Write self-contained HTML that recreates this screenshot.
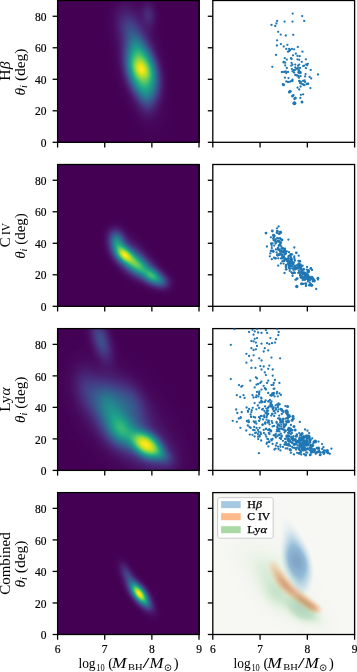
<!DOCTYPE html>
<html><head><meta charset="utf-8"><style>
html,body{margin:0;padding:0;background:#fff;overflow:hidden;width:357px;height:672px;}
#w{position:relative;width:357px;height:672px;overflow:hidden;background:#fff;}
canvas{position:absolute;}
svg{position:absolute;left:0;top:0;}
.t{font-family:"Liberation Serif", serif;font-size:11.5px;fill:#000;stroke:#000;stroke-width:0.2px;}
.xl{font-family:"Liberation Serif", serif;font-size:14.5px;fill:#000;}
.lg{font-family:"Liberation Serif", serif;font-size:10px;fill:#000;stroke:#000;stroke-width:0.25px;}
.yl{font-family:"Liberation Serif", serif;font-size:14.8px;fill:#000;}
</style></head><body><div id="w">
<svg width="357" height="672" style="position:absolute;left:0;top:0"><defs><filter id="fb" x="-50%" y="-50%" width="200%" height="200%"><feGaussianBlur stdDeviation="2.5"/></filter><filter id="fb2" x="-50%" y="-50%" width="200%" height="200%"><feGaussianBlur stdDeviation="3.5"/></filter></defs>
<rect x="57" y="0" width="143" height="143" fill="#440154"/>
<g clip-path="url(#fbc0)"><clipPath id="fbc0"><rect x="57" y="0" width="143" height="143"/></clipPath><g filter="url(#fb)">
<ellipse cx="142" cy="71" rx="18.69" ry="35.81" transform="rotate(-15 142 71)" fill="#414487"/>
<ellipse cx="141.5" cy="69.5" rx="9.82" ry="14.28" transform="rotate(-25 141.5 69.5)" fill="#414487"/>
<ellipse cx="139" cy="60" rx="14.98" ry="41.95" transform="rotate(-12 139 60)" fill="#414487"/>
<ellipse cx="146" cy="100" rx="6.64" ry="11.06" transform="rotate(-10 146 100)" fill="#414487"/>
<ellipse cx="136" cy="40" rx="6.49" ry="9.27" transform="rotate(-15 136 40)" fill="#414487"/>
<ellipse cx="128" cy="27" rx="7.74" ry="13.27" transform="rotate(-15 128 27)" fill="#414487"/>
<ellipse cx="148.5" cy="15" rx="4.98" ry="8.85" transform="rotate(-5 148.5 15)" fill="#414487"/>
<ellipse cx="142" cy="71" rx="15.35" ry="29.42" transform="rotate(-15 142 71)" fill="#2a788e"/>
<ellipse cx="141.5" cy="69.5" rx="5.47" ry="7.95" transform="rotate(-25 141.5 69.5)" fill="#2a788e"/>
<ellipse cx="139" cy="60" rx="2.18" ry="6.11" transform="rotate(-12 139 60)" fill="#2a788e"/>
<ellipse cx="142" cy="71" rx="12.93" ry="24.78" transform="rotate(-15 142 71)" fill="#22a884"/>
<ellipse cx="142" cy="71" rx="10.41" ry="19.94" transform="rotate(-15 142 71)" fill="#7ad151"/>
<ellipse cx="142" cy="71" rx="6.98" ry="13.37" transform="rotate(-15 142 71)" fill="#f1e51d"/>
</g></g>
<rect x="57" y="164" width="143" height="143" fill="#440154"/>
<g clip-path="url(#fbc1)"><clipPath id="fbc1"><rect x="57" y="164" width="143" height="143"/></clipPath><g filter="url(#fb)">
<ellipse cx="116.5" cy="240" rx="9.16" ry="11.91" transform="rotate(-12 116.5 240)" fill="#414487"/>
<ellipse cx="118.5" cy="249" rx="8.45" ry="10.14" transform="rotate(-20 118.5 249)" fill="#414487"/>
<ellipse cx="124.2" cy="254.7" rx="10.62" ry="12.74" transform="rotate(-45 124.2 254.7)" fill="#414487"/>
<ellipse cx="132" cy="261.5" rx="12.00" ry="14.00" transform="rotate(-52 132 261.5)" fill="#414487"/>
<ellipse cx="141" cy="268" rx="11.90" ry="13.88" transform="rotate(-55 141 268)" fill="#414487"/>
<ellipse cx="151.5" cy="275.5" rx="10.23" ry="12.27" transform="rotate(-60 151.5 275.5)" fill="#414487"/>
<ellipse cx="160" cy="281" rx="7.82" ry="10.42" transform="rotate(-65 160 281)" fill="#414487"/>
<ellipse cx="130" cy="252" rx="7.54" ry="12.92" transform="rotate(-45 130 252)" fill="#414487"/>
<ellipse cx="116.5" cy="240" rx="5.38" ry="7.00" transform="rotate(-12 116.5 240)" fill="#2a788e"/>
<ellipse cx="118.5" cy="249" rx="4.05" ry="4.86" transform="rotate(-20 118.5 249)" fill="#2a788e"/>
<ellipse cx="124.2" cy="254.7" rx="7.60" ry="9.12" transform="rotate(-45 124.2 254.7)" fill="#2a788e"/>
<ellipse cx="132" cy="261.5" rx="8.05" ry="9.39" transform="rotate(-52 132 261.5)" fill="#2a788e"/>
<ellipse cx="141" cy="268" rx="7.90" ry="9.22" transform="rotate(-55 141 268)" fill="#2a788e"/>
<ellipse cx="151.5" cy="275.5" rx="7.05" ry="8.45" transform="rotate(-60 151.5 275.5)" fill="#2a788e"/>
<ellipse cx="160" cy="281" rx="4.08" ry="5.44" transform="rotate(-65 160 281)" fill="#2a788e"/>
<ellipse cx="116.5" cy="240" rx="1.86" ry="2.41" transform="rotate(-12 116.5 240)" fill="#22a884"/>
<ellipse cx="124.2" cy="254.7" rx="5.68" ry="6.81" transform="rotate(-45 124.2 254.7)" fill="#22a884"/>
<ellipse cx="132" cy="261.5" rx="5.30" ry="6.18" transform="rotate(-52 132 261.5)" fill="#22a884"/>
<ellipse cx="141" cy="268" rx="5.07" ry="5.91" transform="rotate(-55 141 268)" fill="#22a884"/>
<ellipse cx="151.5" cy="275.5" rx="4.91" ry="5.89" transform="rotate(-60 151.5 275.5)" fill="#22a884"/>
<ellipse cx="124.2" cy="254.7" rx="3.92" ry="4.71" transform="rotate(-45 124.2 254.7)" fill="#7ad151"/>
<ellipse cx="132" cy="261.5" rx="1.95" ry="2.28" transform="rotate(-52 132 261.5)" fill="#7ad151"/>
<ellipse cx="141" cy="268" rx="1.21" ry="1.41" transform="rotate(-55 141 268)" fill="#7ad151"/>
<ellipse cx="151.5" cy="275.5" rx="2.70" ry="3.24" transform="rotate(-60 151.5 275.5)" fill="#7ad151"/>
<ellipse cx="124.2" cy="254.7" rx="1.99" ry="2.39" transform="rotate(-45 124.2 254.7)" fill="#f1e51d"/>
</g></g>
<rect x="57" y="328" width="143" height="143" fill="#440154"/>
<g clip-path="url(#fbc2)"><clipPath id="fbc2"><rect x="57" y="328" width="143" height="143"/></clipPath><g filter="url(#fb)">
<ellipse cx="146.6" cy="445" rx="14.87" ry="21.47" transform="rotate(-53 146.6 445)" fill="#414487"/>
<ellipse cx="146.6" cy="445" rx="7.33" ry="10.26" transform="rotate(-53 146.6 445)" fill="#414487"/>
<ellipse cx="146" cy="447" rx="16.83" ry="27.54" transform="rotate(-55 146 447)" fill="#414487"/>
<ellipse cx="121" cy="431" rx="17.96" ry="23.95" transform="rotate(-40 121 431)" fill="#414487"/>
<ellipse cx="109" cy="406" rx="21.36" ry="31.08" transform="rotate(-25 109 406)" fill="#414487"/>
<ellipse cx="132" cy="402" rx="11.14" ry="19.50" transform="rotate(-30 132 402)" fill="#414487"/>
<ellipse cx="132" cy="426" rx="7.87" ry="12.24" transform="rotate(-45 132 426)" fill="#414487"/>
<ellipse cx="101" cy="340" rx="9.24" ry="23.52" transform="rotate(-17 101 340)" fill="#414487"/>
<ellipse cx="86" cy="388" rx="8.50" ry="14.87" transform="rotate(-10 86 388)" fill="#414487"/>
<ellipse cx="125" cy="420" rx="17.48" ry="30.59" transform="rotate(-40 125 420)" fill="#414487"/>
<ellipse cx="162" cy="455" rx="7.65" ry="12.24" transform="rotate(-50 162 455)" fill="#414487"/>
<ellipse cx="146.6" cy="445" rx="11.90" ry="17.19" transform="rotate(-53 146.6 445)" fill="#2a788e"/>
<ellipse cx="146" cy="447" rx="4.17" ry="6.82" transform="rotate(-55 146 447)" fill="#2a788e"/>
<ellipse cx="121" cy="431" rx="12.03" ry="16.04" transform="rotate(-40 121 431)" fill="#2a788e"/>
<ellipse cx="109" cy="406" rx="13.80" ry="20.08" transform="rotate(-25 109 406)" fill="#2a788e"/>
<ellipse cx="101" cy="340" rx="4.35" ry="11.08" transform="rotate(-17 101 340)" fill="#2a788e"/>
<ellipse cx="162" cy="455" rx="1.90" ry="3.03" transform="rotate(-50 162 455)" fill="#2a788e"/>
<ellipse cx="146.6" cy="445" rx="9.79" ry="14.15" transform="rotate(-53 146.6 445)" fill="#22a884"/>
<ellipse cx="121" cy="431" rx="7.87" ry="10.49" transform="rotate(-40 121 431)" fill="#22a884"/>
<ellipse cx="109" cy="406" rx="8.18" ry="11.90" transform="rotate(-25 109 406)" fill="#22a884"/>
<ellipse cx="146.6" cy="445" rx="7.66" ry="11.06" transform="rotate(-53 146.6 445)" fill="#7ad151"/>
<ellipse cx="121" cy="431" rx="2.72" ry="3.62" transform="rotate(-40 121 431)" fill="#7ad151"/>
<ellipse cx="146.6" cy="445" rx="4.87" ry="7.03" transform="rotate(-53 146.6 445)" fill="#f1e51d"/>
</g></g>
<rect x="57" y="492" width="143" height="143" fill="#440154"/>
<g clip-path="url(#fbc3)"><clipPath id="fbc3"><rect x="57" y="492" width="143" height="143"/></clipPath><g filter="url(#fb)">
<ellipse cx="139.4" cy="593.7" rx="8.49" ry="16.98" transform="rotate(-38 139.4 593.7)" fill="#414487"/>
<ellipse cx="137" cy="591" rx="5.45" ry="18.66" transform="rotate(-33 137 591)" fill="#414487"/>
<ellipse cx="126.5" cy="573" rx="2.78" ry="6.07" transform="rotate(-25 126.5 573)" fill="#414487"/>
<ellipse cx="147" cy="604" rx="2.31" ry="4.62" transform="rotate(-45 147 604)" fill="#414487"/>
<ellipse cx="139.4" cy="593.7" rx="6.08" ry="12.16" transform="rotate(-38 139.4 593.7)" fill="#2a788e"/>
<ellipse cx="139.4" cy="593.7" rx="4.54" ry="9.08" transform="rotate(-38 139.4 593.7)" fill="#22a884"/>
<ellipse cx="139.4" cy="593.7" rx="3.14" ry="6.28" transform="rotate(-38 139.4 593.7)" fill="#7ad151"/>
<ellipse cx="139.4" cy="593.7" rx="1.59" ry="3.18" transform="rotate(-38 139.4 593.7)" fill="#f1e51d"/>
</g></g>
<rect x="213" y="492" width="143" height="143" fill="#f7f7f4"/>
<g filter="url(#fb2)">
<ellipse cx="285" cy="595" rx="34" ry="14" transform="rotate(40 285 595)" fill="#44a044" fill-opacity="0.15"/>
<ellipse cx="296" cy="588" rx="26" ry="5" transform="rotate(40 296 588)" fill="#e08040" fill-opacity="0.45"/>
<ellipse cx="297" cy="563" rx="10" ry="22" transform="rotate(-15 297 563)" fill="#4a8cc8" fill-opacity="0.6"/>
</g></svg>
<canvas id="k0" width="143" height="143" style="left:57px;top:0px"></canvas>
<canvas id="k1" width="143" height="143" style="left:57px;top:164px"></canvas>
<canvas id="k2" width="143" height="143" style="left:57px;top:328px"></canvas>
<canvas id="k3" width="143" height="143" style="left:57px;top:492px"></canvas>
<canvas id="kc" width="143" height="143" style="left:213px;top:492px"></canvas>
<svg width="357" height="672" viewBox="0 0 357 672">
<rect x="57.60" y="0.50" width="141.40" height="141.80" fill="none" stroke="#000" stroke-width="1.3"/>
<line x1="52.60" y1="142.30" x2="57.60" y2="142.30" stroke="#000" stroke-width="1.3"/>
<line x1="52.60" y1="110.79" x2="57.60" y2="110.79" stroke="#000" stroke-width="1.3"/>
<line x1="52.60" y1="79.28" x2="57.60" y2="79.28" stroke="#000" stroke-width="1.3"/>
<line x1="52.60" y1="47.77" x2="57.60" y2="47.77" stroke="#000" stroke-width="1.3"/>
<line x1="52.60" y1="16.26" x2="57.60" y2="16.26" stroke="#000" stroke-width="1.3"/>
<line x1="57.60" y1="142.30" x2="57.60" y2="147.50" stroke="#000" stroke-width="1.3"/>
<line x1="104.73" y1="142.30" x2="104.73" y2="147.50" stroke="#000" stroke-width="1.3"/>
<line x1="151.87" y1="142.30" x2="151.87" y2="147.50" stroke="#000" stroke-width="1.3"/>
<line x1="199.00" y1="142.30" x2="199.00" y2="147.50" stroke="#000" stroke-width="1.3"/>
<rect x="212.80" y="0.50" width="141.80" height="141.80" fill="none" stroke="#000" stroke-width="1.3"/>
<line x1="207.80" y1="142.30" x2="212.80" y2="142.30" stroke="#000" stroke-width="1.3"/>
<line x1="207.80" y1="110.79" x2="212.80" y2="110.79" stroke="#000" stroke-width="1.3"/>
<line x1="207.80" y1="79.28" x2="212.80" y2="79.28" stroke="#000" stroke-width="1.3"/>
<line x1="207.80" y1="47.77" x2="212.80" y2="47.77" stroke="#000" stroke-width="1.3"/>
<line x1="207.80" y1="16.26" x2="212.80" y2="16.26" stroke="#000" stroke-width="1.3"/>
<line x1="212.80" y1="142.30" x2="212.80" y2="147.50" stroke="#000" stroke-width="1.3"/>
<line x1="260.07" y1="142.30" x2="260.07" y2="147.50" stroke="#000" stroke-width="1.3"/>
<line x1="307.33" y1="142.30" x2="307.33" y2="147.50" stroke="#000" stroke-width="1.3"/>
<line x1="354.60" y1="142.30" x2="354.60" y2="147.50" stroke="#000" stroke-width="1.3"/>
<text x="46.6" y="147.00" text-anchor="end" class="t">0</text>
<text x="46.6" y="115.49" text-anchor="end" class="t">20</text>
<text x="46.6" y="83.98" text-anchor="end" class="t">40</text>
<text x="46.6" y="52.47" text-anchor="end" class="t">60</text>
<text x="46.6" y="20.96" text-anchor="end" class="t">80</text>
<rect x="57.60" y="164.50" width="141.40" height="141.80" fill="none" stroke="#000" stroke-width="1.3"/>
<line x1="52.60" y1="306.30" x2="57.60" y2="306.30" stroke="#000" stroke-width="1.3"/>
<line x1="52.60" y1="274.79" x2="57.60" y2="274.79" stroke="#000" stroke-width="1.3"/>
<line x1="52.60" y1="243.28" x2="57.60" y2="243.28" stroke="#000" stroke-width="1.3"/>
<line x1="52.60" y1="211.77" x2="57.60" y2="211.77" stroke="#000" stroke-width="1.3"/>
<line x1="52.60" y1="180.26" x2="57.60" y2="180.26" stroke="#000" stroke-width="1.3"/>
<line x1="57.60" y1="306.30" x2="57.60" y2="311.50" stroke="#000" stroke-width="1.3"/>
<line x1="104.73" y1="306.30" x2="104.73" y2="311.50" stroke="#000" stroke-width="1.3"/>
<line x1="151.87" y1="306.30" x2="151.87" y2="311.50" stroke="#000" stroke-width="1.3"/>
<line x1="199.00" y1="306.30" x2="199.00" y2="311.50" stroke="#000" stroke-width="1.3"/>
<rect x="212.80" y="164.50" width="141.80" height="141.80" fill="none" stroke="#000" stroke-width="1.3"/>
<line x1="207.80" y1="306.30" x2="212.80" y2="306.30" stroke="#000" stroke-width="1.3"/>
<line x1="207.80" y1="274.79" x2="212.80" y2="274.79" stroke="#000" stroke-width="1.3"/>
<line x1="207.80" y1="243.28" x2="212.80" y2="243.28" stroke="#000" stroke-width="1.3"/>
<line x1="207.80" y1="211.77" x2="212.80" y2="211.77" stroke="#000" stroke-width="1.3"/>
<line x1="207.80" y1="180.26" x2="212.80" y2="180.26" stroke="#000" stroke-width="1.3"/>
<line x1="212.80" y1="306.30" x2="212.80" y2="311.50" stroke="#000" stroke-width="1.3"/>
<line x1="260.07" y1="306.30" x2="260.07" y2="311.50" stroke="#000" stroke-width="1.3"/>
<line x1="307.33" y1="306.30" x2="307.33" y2="311.50" stroke="#000" stroke-width="1.3"/>
<line x1="354.60" y1="306.30" x2="354.60" y2="311.50" stroke="#000" stroke-width="1.3"/>
<text x="46.6" y="311.00" text-anchor="end" class="t">0</text>
<text x="46.6" y="279.49" text-anchor="end" class="t">20</text>
<text x="46.6" y="247.98" text-anchor="end" class="t">40</text>
<text x="46.6" y="216.47" text-anchor="end" class="t">60</text>
<text x="46.6" y="184.96" text-anchor="end" class="t">80</text>
<rect x="57.60" y="328.60" width="141.40" height="141.80" fill="none" stroke="#000" stroke-width="1.3"/>
<line x1="52.60" y1="470.40" x2="57.60" y2="470.40" stroke="#000" stroke-width="1.3"/>
<line x1="52.60" y1="438.89" x2="57.60" y2="438.89" stroke="#000" stroke-width="1.3"/>
<line x1="52.60" y1="407.38" x2="57.60" y2="407.38" stroke="#000" stroke-width="1.3"/>
<line x1="52.60" y1="375.87" x2="57.60" y2="375.87" stroke="#000" stroke-width="1.3"/>
<line x1="52.60" y1="344.36" x2="57.60" y2="344.36" stroke="#000" stroke-width="1.3"/>
<line x1="57.60" y1="470.40" x2="57.60" y2="475.60" stroke="#000" stroke-width="1.3"/>
<line x1="104.73" y1="470.40" x2="104.73" y2="475.60" stroke="#000" stroke-width="1.3"/>
<line x1="151.87" y1="470.40" x2="151.87" y2="475.60" stroke="#000" stroke-width="1.3"/>
<line x1="199.00" y1="470.40" x2="199.00" y2="475.60" stroke="#000" stroke-width="1.3"/>
<rect x="212.80" y="328.60" width="141.80" height="141.80" fill="none" stroke="#000" stroke-width="1.3"/>
<line x1="207.80" y1="470.40" x2="212.80" y2="470.40" stroke="#000" stroke-width="1.3"/>
<line x1="207.80" y1="438.89" x2="212.80" y2="438.89" stroke="#000" stroke-width="1.3"/>
<line x1="207.80" y1="407.38" x2="212.80" y2="407.38" stroke="#000" stroke-width="1.3"/>
<line x1="207.80" y1="375.87" x2="212.80" y2="375.87" stroke="#000" stroke-width="1.3"/>
<line x1="207.80" y1="344.36" x2="212.80" y2="344.36" stroke="#000" stroke-width="1.3"/>
<line x1="212.80" y1="470.40" x2="212.80" y2="475.60" stroke="#000" stroke-width="1.3"/>
<line x1="260.07" y1="470.40" x2="260.07" y2="475.60" stroke="#000" stroke-width="1.3"/>
<line x1="307.33" y1="470.40" x2="307.33" y2="475.60" stroke="#000" stroke-width="1.3"/>
<line x1="354.60" y1="470.40" x2="354.60" y2="475.60" stroke="#000" stroke-width="1.3"/>
<text x="46.6" y="475.10" text-anchor="end" class="t">0</text>
<text x="46.6" y="443.59" text-anchor="end" class="t">20</text>
<text x="46.6" y="412.08" text-anchor="end" class="t">40</text>
<text x="46.6" y="380.57" text-anchor="end" class="t">60</text>
<text x="46.6" y="349.06" text-anchor="end" class="t">80</text>
<rect x="57.60" y="492.60" width="141.40" height="141.90" fill="none" stroke="#000" stroke-width="1.3"/>
<line x1="52.60" y1="634.50" x2="57.60" y2="634.50" stroke="#000" stroke-width="1.3"/>
<line x1="52.60" y1="602.97" x2="57.60" y2="602.97" stroke="#000" stroke-width="1.3"/>
<line x1="52.60" y1="571.43" x2="57.60" y2="571.43" stroke="#000" stroke-width="1.3"/>
<line x1="52.60" y1="539.90" x2="57.60" y2="539.90" stroke="#000" stroke-width="1.3"/>
<line x1="52.60" y1="508.37" x2="57.60" y2="508.37" stroke="#000" stroke-width="1.3"/>
<line x1="57.60" y1="634.50" x2="57.60" y2="639.70" stroke="#000" stroke-width="1.3"/>
<line x1="104.73" y1="634.50" x2="104.73" y2="639.70" stroke="#000" stroke-width="1.3"/>
<line x1="151.87" y1="634.50" x2="151.87" y2="639.70" stroke="#000" stroke-width="1.3"/>
<line x1="199.00" y1="634.50" x2="199.00" y2="639.70" stroke="#000" stroke-width="1.3"/>
<rect x="212.80" y="492.60" width="141.80" height="141.90" fill="none" stroke="#000" stroke-width="1.3"/>
<line x1="207.80" y1="634.50" x2="212.80" y2="634.50" stroke="#000" stroke-width="1.3"/>
<line x1="207.80" y1="602.97" x2="212.80" y2="602.97" stroke="#000" stroke-width="1.3"/>
<line x1="207.80" y1="571.43" x2="212.80" y2="571.43" stroke="#000" stroke-width="1.3"/>
<line x1="207.80" y1="539.90" x2="212.80" y2="539.90" stroke="#000" stroke-width="1.3"/>
<line x1="207.80" y1="508.37" x2="212.80" y2="508.37" stroke="#000" stroke-width="1.3"/>
<line x1="212.80" y1="634.50" x2="212.80" y2="639.70" stroke="#000" stroke-width="1.3"/>
<line x1="260.07" y1="634.50" x2="260.07" y2="639.70" stroke="#000" stroke-width="1.3"/>
<line x1="307.33" y1="634.50" x2="307.33" y2="639.70" stroke="#000" stroke-width="1.3"/>
<line x1="354.60" y1="634.50" x2="354.60" y2="639.70" stroke="#000" stroke-width="1.3"/>
<text x="46.6" y="639.20" text-anchor="end" class="t">0</text>
<text x="46.6" y="607.67" text-anchor="end" class="t">20</text>
<text x="46.6" y="576.13" text-anchor="end" class="t">40</text>
<text x="46.6" y="544.60" text-anchor="end" class="t">60</text>
<text x="46.6" y="513.07" text-anchor="end" class="t">80</text>
<text x="57.60" y="652.6" text-anchor="middle" class="t">6</text>
<text x="104.73" y="652.6" text-anchor="middle" class="t">7</text>
<text x="151.87" y="652.6" text-anchor="middle" class="t">8</text>
<text x="199.00" y="652.6" text-anchor="middle" class="t">9</text>
<text x="78.40" y="668.0" class="xl" style="font-size:14.5px" textLength="17.2" lengthAdjust="spacingAndGlyphs">log</text>
<text x="96.20" y="671.0" class="xl" style="font-size:10.4px" textLength="8.4" lengthAdjust="spacingAndGlyphs">10</text>
<text x="108.20" y="668.0" class="xl" style="font-size:14.5px">(</text>
<text x="112.00" y="668.0" class="xl" style="font-size:14.5px" textLength="14.6" lengthAdjust="spacingAndGlyphs" font-style="italic">M</text>
<text x="128.00" y="670.0" class="xl" style="font-size:8.4px" textLength="14.6" lengthAdjust="spacingAndGlyphs">BH</text>
<text x="142.60" y="668.0" class="xl" style="font-size:14.5px" textLength="7.0" lengthAdjust="spacingAndGlyphs">/</text>
<text x="149.60" y="668.0" class="xl" style="font-size:14.5px" textLength="14.0" lengthAdjust="spacingAndGlyphs" font-style="italic">M</text>
<text x="173.80" y="668.0" class="xl" style="font-size:14.5px">)</text>
<circle cx="168.00" cy="667.7" r="2.9" fill="none" stroke="#000" stroke-width="0.8"/><circle cx="168.00" cy="667.7" r="0.8" fill="#000"/>
<text x="212.80" y="652.6" text-anchor="middle" class="t">6</text>
<text x="260.07" y="652.6" text-anchor="middle" class="t">7</text>
<text x="307.33" y="652.6" text-anchor="middle" class="t">8</text>
<text x="354.60" y="652.6" text-anchor="middle" class="t">9</text>
<text x="233.60" y="668.0" class="xl" style="font-size:14.5px" textLength="17.2" lengthAdjust="spacingAndGlyphs">log</text>
<text x="251.40" y="671.0" class="xl" style="font-size:10.4px" textLength="8.4" lengthAdjust="spacingAndGlyphs">10</text>
<text x="263.40" y="668.0" class="xl" style="font-size:14.5px">(</text>
<text x="267.20" y="668.0" class="xl" style="font-size:14.5px" textLength="14.6" lengthAdjust="spacingAndGlyphs" font-style="italic">M</text>
<text x="283.20" y="670.0" class="xl" style="font-size:8.4px" textLength="14.6" lengthAdjust="spacingAndGlyphs">BH</text>
<text x="297.80" y="668.0" class="xl" style="font-size:14.5px" textLength="7.0" lengthAdjust="spacingAndGlyphs">/</text>
<text x="304.80" y="668.0" class="xl" style="font-size:14.5px" textLength="14.0" lengthAdjust="spacingAndGlyphs" font-style="italic">M</text>
<text x="329.00" y="668.0" class="xl" style="font-size:14.5px">)</text>
<circle cx="323.20" cy="667.7" r="2.9" fill="none" stroke="#000" stroke-width="0.8"/><circle cx="323.20" cy="667.7" r="0.8" fill="#000"/>
<text transform="translate(9.6 71.10) rotate(-90)" text-anchor="middle" class="yl" textLength="19.2" lengthAdjust="spacingAndGlyphs">H<tspan font-style="italic">β</tspan></text>
<text transform="translate(24.5 72.00) rotate(-90)" text-anchor="middle" class="yl" textLength="47.0" lengthAdjust="spacingAndGlyphs"><tspan font-style="italic">θ</tspan><tspan font-style="italic" font-size="10" dy="2">i</tspan><tspan dy="-2"> (deg)</tspan></text>
<text transform="translate(9.6 235.05) rotate(-90)" text-anchor="middle" class="yl" textLength="24.3" lengthAdjust="spacingAndGlyphs">C<tspan font-size="11.5">&#8201;IV</tspan></text>
<text transform="translate(24.5 236.00) rotate(-90)" text-anchor="middle" class="yl" textLength="45.7" lengthAdjust="spacingAndGlyphs"><tspan font-style="italic">θ</tspan><tspan font-style="italic" font-size="10" dy="2">i</tspan><tspan dy="-2"> (deg)</tspan></text>
<text transform="translate(9.6 399.60) rotate(-90)" text-anchor="middle" class="yl" textLength="24.2" lengthAdjust="spacingAndGlyphs">Ly<tspan font-style="italic">α</tspan></text>
<text transform="translate(24.5 399.80) rotate(-90)" text-anchor="middle" class="yl" textLength="46.2" lengthAdjust="spacingAndGlyphs"><tspan font-style="italic">θ</tspan><tspan font-style="italic" font-size="10" dy="2">i</tspan><tspan dy="-2"> (deg)</tspan></text>
<text transform="translate(9.6 563.55) rotate(-90)" text-anchor="middle" class="yl" textLength="62.5" lengthAdjust="spacingAndGlyphs">Combined</text>
<text transform="translate(24.5 564.05) rotate(-90)" text-anchor="middle" class="yl" textLength="46.9" lengthAdjust="spacingAndGlyphs"><tspan font-style="italic">θ</tspan><tspan font-style="italic" font-size="10" dy="2">i</tspan><tspan dy="-2"> (deg)</tspan></text>
<rect x="217.6" y="497.6" width="55.6" height="40.6" rx="2" ry="2" fill="#fff" fill-opacity="0.8" stroke="#cccccc" stroke-width="1"/>
<rect x="221.1" y="501.1" width="19.6" height="7" fill="#a5c9e1"/>
<rect x="221.1" y="513.2" width="19.6" height="7" fill="#feb98a"/>
<rect x="221.1" y="526.2" width="19.6" height="7" fill="#aad9a6"/>
<text x="247.3" y="507.7" class="lg" textLength="14.6" lengthAdjust="spacingAndGlyphs">H<tspan font-style="italic">β</tspan></text>
<text x="247.3" y="520.2" class="lg" textLength="22.9" lengthAdjust="spacingAndGlyphs">C IV</text>
<text x="247.3" y="533.2" class="lg" textLength="19.8" lengthAdjust="spacingAndGlyphs">Ly<tspan font-style="italic">α</tspan></text>
<clipPath id="cp0"><rect x="212.8" y="0.5" width="141.8" height="141.8"/></clipPath>
<g clip-path="url(#cp0)" fill="#1f77b4"><circle cx="292.7" cy="13.6" r="1.15"/><circle cx="302.2" cy="16.1" r="1.15"/><circle cx="304.2" cy="20.9" r="1.15"/><circle cx="277.1" cy="20.9" r="1.15"/><circle cx="276.4" cy="23.4" r="1.15"/><circle cx="284.6" cy="21.6" r="1.15"/><circle cx="292.5" cy="21.6" r="1.15"/><circle cx="271.5" cy="24.9" r="1.15"/><circle cx="275.3" cy="26.0" r="1.15"/><circle cx="278.1" cy="31.8" r="1.15"/><circle cx="280.7" cy="34.6" r="1.15"/><circle cx="285.8" cy="35.5" r="1.15"/><circle cx="293.2" cy="34.8" r="1.15"/><circle cx="277.1" cy="40.3" r="1.15"/><circle cx="276.9" cy="45.5" r="1.15"/><circle cx="280.9" cy="44.1" r="1.15"/><circle cx="283.7" cy="46.5" r="1.15"/><circle cx="287.4" cy="44.8" r="1.15"/><circle cx="297.8" cy="46.9" r="1.15"/><circle cx="286.3" cy="48.9" r="1.15"/><circle cx="289.1" cy="48.9" r="1.15"/><circle cx="291.9" cy="48.9" r="1.15"/><circle cx="294.1" cy="49.3" r="1.15"/><circle cx="290.2" cy="50.0" r="1.15"/><circle cx="288.0" cy="51.7" r="1.15"/><circle cx="289.1" cy="51.2" r="1.15"/><circle cx="302.5" cy="51.7" r="1.15"/><circle cx="276.0" cy="54.9" r="1.15"/><circle cx="293.0" cy="55.3" r="1.15"/><circle cx="295.8" cy="53.7" r="1.15"/><circle cx="297.5" cy="55.9" r="1.15"/><circle cx="299.7" cy="56.2" r="1.15"/><circle cx="284.8" cy="58.1" r="1.15"/><circle cx="291.0" cy="58.1" r="1.15"/><circle cx="291.6" cy="59.0" r="1.15"/><circle cx="297.5" cy="59.3" r="1.15"/><circle cx="299.2" cy="59.8" r="1.15"/><circle cx="286.8" cy="59.6" r="1.15"/><circle cx="283.8" cy="61.8" r="1.15"/><circle cx="285.2" cy="62.7" r="1.15"/><circle cx="283.5" cy="62.4" r="1.15"/><circle cx="291.6" cy="62.9" r="1.15"/><circle cx="301.8" cy="61.8" r="1.15"/><circle cx="292.5" cy="64.6" r="1.15"/><circle cx="291.3" cy="65.7" r="1.15"/><circle cx="295.3" cy="64.6" r="1.15"/><circle cx="298.1" cy="65.7" r="1.15"/><circle cx="299.2" cy="64.6" r="1.15"/><circle cx="285.2" cy="65.4" r="1.15"/><circle cx="303.1" cy="66.1" r="1.15"/><circle cx="272.3" cy="66.8" r="1.15"/><circle cx="286.8" cy="68.0" r="1.15"/><circle cx="295.3" cy="67.4" r="1.15"/><circle cx="297.5" cy="68.5" r="1.15"/><circle cx="291.9" cy="69.1" r="1.15"/><circle cx="293.6" cy="70.2" r="1.15"/><circle cx="294.7" cy="70.2" r="1.15"/><circle cx="298.6" cy="70.8" r="1.15"/><circle cx="300.3" cy="71.9" r="1.15"/><circle cx="299.7" cy="73.0" r="1.15"/><circle cx="281.8" cy="72.1" r="1.15"/><circle cx="282.9" cy="71.9" r="1.15"/><circle cx="284.6" cy="71.9" r="1.15"/><circle cx="285.7" cy="71.3" r="1.15"/><circle cx="288.0" cy="71.9" r="1.15"/><circle cx="292.5" cy="71.3" r="1.15"/><circle cx="294.1" cy="72.5" r="1.15"/><circle cx="299.2" cy="72.5" r="1.15"/><circle cx="286.3" cy="73.0" r="1.15"/><circle cx="295.3" cy="75.0" r="1.15"/><circle cx="296.9" cy="75.3" r="1.15"/><circle cx="298.6" cy="76.9" r="1.15"/><circle cx="284.9" cy="77.7" r="1.15"/><circle cx="288.5" cy="78.1" r="1.15"/><circle cx="292.5" cy="79.7" r="1.15"/><circle cx="291.3" cy="80.9" r="1.15"/><circle cx="289.9" cy="81.8" r="1.15"/><circle cx="286.3" cy="81.4" r="1.15"/><circle cx="288.0" cy="82.0" r="1.15"/><circle cx="282.9" cy="84.2" r="1.15"/><circle cx="299.2" cy="81.1" r="1.15"/><circle cx="300.9" cy="81.8" r="1.15"/><circle cx="303.1" cy="80.9" r="1.15"/><circle cx="301.4" cy="83.7" r="1.15"/><circle cx="304.2" cy="65.7" r="1.15"/><circle cx="305.9" cy="59.3" r="1.15"/><circle cx="306.2" cy="64.3" r="1.15"/><circle cx="307.9" cy="63.8" r="1.15"/><circle cx="307.1" cy="65.2" r="1.15"/><circle cx="305.9" cy="68.2" r="1.15"/><circle cx="310.7" cy="69.9" r="1.15"/><circle cx="297.8" cy="68.0" r="1.15"/><circle cx="300.0" cy="68.0" r="1.15"/><circle cx="298.4" cy="72.5" r="1.15"/><circle cx="300.6" cy="73.0" r="1.15"/><circle cx="318.0" cy="74.5" r="1.15"/><circle cx="305.6" cy="74.1" r="1.15"/><circle cx="296.7" cy="75.3" r="1.15"/><circle cx="298.4" cy="75.8" r="1.15"/><circle cx="300.6" cy="76.1" r="1.15"/><circle cx="298.9" cy="77.7" r="1.15"/><circle cx="305.1" cy="76.4" r="1.15"/><circle cx="309.6" cy="76.9" r="1.15"/><circle cx="311.2" cy="78.4" r="1.15"/><circle cx="299.5" cy="80.9" r="1.15"/><circle cx="300.0" cy="82.9" r="1.15"/><circle cx="304.5" cy="80.3" r="1.15"/><circle cx="305.1" cy="82.0" r="1.15"/><circle cx="302.8" cy="84.2" r="1.15"/><circle cx="306.8" cy="84.0" r="1.15"/><circle cx="308.2" cy="83.7" r="1.15"/><circle cx="283.5" cy="84.7" r="1.5"/><circle cx="292.5" cy="81.1" r="1.15"/><circle cx="303.7" cy="85.0" r="1.15"/><circle cx="300.6" cy="86.5" r="1.15"/><circle cx="297.5" cy="87.6" r="1.15"/><circle cx="299.2" cy="89.5" r="1.15"/><circle cx="289.4" cy="92.1" r="1.5"/><circle cx="290.2" cy="91.2" r="1.5"/><circle cx="292.5" cy="95.9" r="1.5"/><circle cx="293.6" cy="95.1" r="1.15"/><circle cx="295.3" cy="97.9" r="1.5"/><circle cx="294.4" cy="99.0" r="1.15"/><circle cx="300.9" cy="94.8" r="1.15"/><circle cx="303.1" cy="94.3" r="1.15"/><circle cx="300.3" cy="97.9" r="1.15"/><circle cx="302.0" cy="102.1" r="1.5"/><circle cx="294.4" cy="103.3" r="2.0"/><circle cx="304.5" cy="85.0" r="1.15"/><circle cx="307.9" cy="83.9" r="1.15"/><circle cx="310.4" cy="88.1" r="1.15"/><circle cx="296.1" cy="69.1" r="1.15"/><circle cx="298.9" cy="70.2" r="1.15"/><circle cx="299.7" cy="71.9" r="1.15"/></g>
<clipPath id="cp1"><rect x="212.8" y="164.5" width="141.8" height="141.8"/></clipPath>
<g clip-path="url(#cp1)" fill="#1f77b4"><circle cx="278.4" cy="238.3" r="1.15"/><circle cx="280.3" cy="244.9" r="1.15"/><circle cx="279.9" cy="245.0" r="1.15"/><circle cx="277.1" cy="238.2" r="1.15"/><circle cx="277.7" cy="231.2" r="1.15"/><circle cx="282.0" cy="239.9" r="1.4"/><circle cx="274.3" cy="236.1" r="1.4"/><circle cx="281.4" cy="248.6" r="1.15"/><circle cx="278.7" cy="241.1" r="1.15"/><circle cx="275.4" cy="241.8" r="1.15"/><circle cx="273.7" cy="237.7" r="1.15"/><circle cx="277.9" cy="241.4" r="1.15"/><circle cx="273.2" cy="238.7" r="1.15"/><circle cx="273.9" cy="236.0" r="1.15"/><circle cx="272.5" cy="243.4" r="1.15"/><circle cx="273.7" cy="235.2" r="1.4"/><circle cx="274.1" cy="240.2" r="1.4"/><circle cx="280.4" cy="243.1" r="1.4"/><circle cx="281.1" cy="242.4" r="1.15"/><circle cx="270.9" cy="237.3" r="1.15"/><circle cx="275.7" cy="243.5" r="1.15"/><circle cx="273.1" cy="235.4" r="1.15"/><circle cx="271.8" cy="248.1" r="1.15"/><circle cx="275.7" cy="239.4" r="1.15"/><circle cx="266.0" cy="233.1" r="1.4"/><circle cx="280.0" cy="238.1" r="1.15"/><circle cx="279.0" cy="245.2" r="1.15"/><circle cx="278.1" cy="241.0" r="1.4"/><circle cx="279.5" cy="242.0" r="1.15"/><circle cx="276.4" cy="241.6" r="1.15"/><circle cx="272.3" cy="231.0" r="1.4"/><circle cx="275.6" cy="243.1" r="1.15"/><circle cx="280.7" cy="232.2" r="1.4"/><circle cx="279.2" cy="241.3" r="1.15"/><circle cx="281.0" cy="239.5" r="1.15"/><circle cx="279.2" cy="234.0" r="1.15"/><circle cx="279.9" cy="231.9" r="1.15"/><circle cx="277.0" cy="228.3" r="1.15"/><circle cx="276.8" cy="232.9" r="1.15"/><circle cx="277.0" cy="231.2" r="1.15"/><circle cx="280.4" cy="239.1" r="1.15"/><circle cx="275.5" cy="258.3" r="1.4"/><circle cx="281.3" cy="246.4" r="1.15"/><circle cx="279.8" cy="251.1" r="1.15"/><circle cx="284.1" cy="250.7" r="1.15"/><circle cx="281.6" cy="251.6" r="1.15"/><circle cx="285.9" cy="253.5" r="1.15"/><circle cx="281.0" cy="258.4" r="1.15"/><circle cx="284.8" cy="249.1" r="1.15"/><circle cx="290.8" cy="254.4" r="1.4"/><circle cx="278.8" cy="245.8" r="1.15"/><circle cx="285.8" cy="253.4" r="1.15"/><circle cx="280.5" cy="254.1" r="1.15"/><circle cx="283.8" cy="257.7" r="1.15"/><circle cx="280.6" cy="250.6" r="1.15"/><circle cx="286.8" cy="261.1" r="1.15"/><circle cx="284.7" cy="248.8" r="1.15"/><circle cx="277.6" cy="255.3" r="1.4"/><circle cx="282.7" cy="248.4" r="1.4"/><circle cx="287.0" cy="260.7" r="1.4"/><circle cx="278.3" cy="258.3" r="1.15"/><circle cx="278.2" cy="247.6" r="1.15"/><circle cx="284.5" cy="254.7" r="1.15"/><circle cx="270.3" cy="253.4" r="1.15"/><circle cx="286.0" cy="266.8" r="1.4"/><circle cx="281.9" cy="248.1" r="1.15"/><circle cx="284.5" cy="250.9" r="1.15"/><circle cx="282.3" cy="261.3" r="1.15"/><circle cx="273.0" cy="250.6" r="1.15"/><circle cx="271.1" cy="250.9" r="1.4"/><circle cx="277.4" cy="254.4" r="1.15"/><circle cx="279.0" cy="254.7" r="1.4"/><circle cx="284.0" cy="256.4" r="1.15"/><circle cx="284.4" cy="259.7" r="1.15"/><circle cx="284.2" cy="252.3" r="1.4"/><circle cx="280.2" cy="253.7" r="1.4"/><circle cx="285.4" cy="258.5" r="1.15"/><circle cx="279.3" cy="249.6" r="1.15"/><circle cx="285.0" cy="258.6" r="1.15"/><circle cx="283.0" cy="257.0" r="1.4"/><circle cx="280.3" cy="254.5" r="1.15"/><circle cx="283.5" cy="248.8" r="1.15"/><circle cx="285.1" cy="248.6" r="1.15"/><circle cx="282.2" cy="256.3" r="1.15"/><circle cx="271.7" cy="245.8" r="1.15"/><circle cx="282.6" cy="257.6" r="1.15"/><circle cx="280.8" cy="250.7" r="1.15"/><circle cx="281.9" cy="251.5" r="1.4"/><circle cx="286.8" cy="251.4" r="1.15"/><circle cx="277.8" cy="248.5" r="1.15"/><circle cx="274.2" cy="245.6" r="1.15"/><circle cx="278.3" cy="249.0" r="1.15"/><circle cx="277.8" cy="255.2" r="1.15"/><circle cx="274.0" cy="257.7" r="1.15"/><circle cx="275.9" cy="249.4" r="1.15"/><circle cx="276.6" cy="252.4" r="1.15"/><circle cx="275.2" cy="240.0" r="1.15"/><circle cx="280.9" cy="263.4" r="1.15"/><circle cx="271.3" cy="243.7" r="1.4"/><circle cx="283.9" cy="252.0" r="1.15"/><circle cx="284.8" cy="253.7" r="1.15"/><circle cx="273.3" cy="251.5" r="1.4"/><circle cx="289.0" cy="252.2" r="1.15"/><circle cx="299.8" cy="261.2" r="1.4"/><circle cx="298.7" cy="255.7" r="1.15"/><circle cx="278.3" cy="249.6" r="1.4"/><circle cx="294.8" cy="260.7" r="1.15"/><circle cx="290.1" cy="258.5" r="1.15"/><circle cx="289.3" cy="262.0" r="1.15"/><circle cx="289.5" cy="260.6" r="1.15"/><circle cx="284.1" cy="261.0" r="1.15"/><circle cx="296.7" cy="268.5" r="1.4"/><circle cx="293.9" cy="262.3" r="1.15"/><circle cx="288.4" cy="264.5" r="1.15"/><circle cx="285.0" cy="251.1" r="1.4"/><circle cx="291.5" cy="259.6" r="1.4"/><circle cx="282.4" cy="258.4" r="1.15"/><circle cx="297.4" cy="265.1" r="1.15"/><circle cx="301.6" cy="266.1" r="1.15"/><circle cx="289.4" cy="263.2" r="1.4"/><circle cx="299.7" cy="265.7" r="1.15"/><circle cx="290.3" cy="255.7" r="1.4"/><circle cx="291.2" cy="259.7" r="1.15"/><circle cx="291.5" cy="260.1" r="1.15"/><circle cx="293.2" cy="263.2" r="1.15"/><circle cx="292.1" cy="254.4" r="1.15"/><circle cx="287.4" cy="259.2" r="1.15"/><circle cx="293.3" cy="264.0" r="1.15"/><circle cx="285.9" cy="264.9" r="1.15"/><circle cx="281.6" cy="251.9" r="1.15"/><circle cx="289.1" cy="266.2" r="1.15"/><circle cx="289.6" cy="266.1" r="1.15"/><circle cx="278.2" cy="265.7" r="1.15"/><circle cx="289.3" cy="268.6" r="1.15"/><circle cx="288.3" cy="257.1" r="1.15"/><circle cx="291.9" cy="261.6" r="1.15"/><circle cx="291.6" cy="259.6" r="1.15"/><circle cx="289.7" cy="270.8" r="1.15"/><circle cx="291.4" cy="258.7" r="1.15"/><circle cx="288.1" cy="259.0" r="1.15"/><circle cx="296.3" cy="252.8" r="1.4"/><circle cx="286.5" cy="259.5" r="1.4"/><circle cx="291.1" cy="257.5" r="1.15"/><circle cx="288.7" cy="256.0" r="1.15"/><circle cx="294.6" cy="259.3" r="1.15"/><circle cx="291.1" cy="260.0" r="1.15"/><circle cx="291.0" cy="262.1" r="1.15"/><circle cx="294.3" cy="257.9" r="1.15"/><circle cx="285.9" cy="266.1" r="1.15"/><circle cx="291.0" cy="266.3" r="1.15"/><circle cx="292.2" cy="263.8" r="1.15"/><circle cx="288.6" cy="261.5" r="1.4"/><circle cx="292.0" cy="268.3" r="1.15"/><circle cx="289.4" cy="263.8" r="1.15"/><circle cx="282.1" cy="254.7" r="1.4"/><circle cx="289.2" cy="267.4" r="1.4"/><circle cx="283.5" cy="263.6" r="1.15"/><circle cx="292.4" cy="263.1" r="1.15"/><circle cx="299.4" cy="263.4" r="1.15"/><circle cx="283.2" cy="261.1" r="1.15"/><circle cx="289.7" cy="261.2" r="1.4"/><circle cx="286.6" cy="265.1" r="1.15"/><circle cx="288.3" cy="261.7" r="1.15"/><circle cx="291.1" cy="260.3" r="1.15"/><circle cx="287.8" cy="263.3" r="1.15"/><circle cx="302.5" cy="274.3" r="1.15"/><circle cx="290.9" cy="263.3" r="1.4"/><circle cx="290.0" cy="268.8" r="1.15"/><circle cx="301.3" cy="269.2" r="1.15"/><circle cx="298.6" cy="263.9" r="1.15"/><circle cx="301.7" cy="271.2" r="1.15"/><circle cx="291.4" cy="272.2" r="1.15"/><circle cx="291.9" cy="265.8" r="1.15"/><circle cx="308.6" cy="270.5" r="1.15"/><circle cx="307.7" cy="279.1" r="1.15"/><circle cx="290.3" cy="261.3" r="1.4"/><circle cx="294.6" cy="265.9" r="1.15"/><circle cx="300.0" cy="272.7" r="1.15"/><circle cx="303.6" cy="269.2" r="1.4"/><circle cx="306.9" cy="269.6" r="1.15"/><circle cx="300.5" cy="277.2" r="1.15"/><circle cx="300.1" cy="275.2" r="1.15"/><circle cx="303.1" cy="273.7" r="1.15"/><circle cx="298.0" cy="267.1" r="1.15"/><circle cx="298.4" cy="260.8" r="1.15"/><circle cx="292.6" cy="275.9" r="1.15"/><circle cx="302.4" cy="277.1" r="1.4"/><circle cx="298.8" cy="265.5" r="1.15"/><circle cx="303.8" cy="274.5" r="1.15"/><circle cx="295.0" cy="265.7" r="1.15"/><circle cx="307.6" cy="271.4" r="1.15"/><circle cx="300.0" cy="273.1" r="1.15"/><circle cx="294.3" cy="267.3" r="1.15"/><circle cx="305.5" cy="278.8" r="1.4"/><circle cx="286.2" cy="269.3" r="1.4"/><circle cx="289.1" cy="265.5" r="1.15"/><circle cx="294.1" cy="272.7" r="1.4"/><circle cx="293.4" cy="269.8" r="1.15"/><circle cx="299.1" cy="272.0" r="1.15"/><circle cx="297.1" cy="265.5" r="1.15"/><circle cx="300.8" cy="272.7" r="1.15"/><circle cx="298.7" cy="264.0" r="1.15"/><circle cx="300.2" cy="268.9" r="1.15"/><circle cx="300.4" cy="275.3" r="1.15"/><circle cx="305.9" cy="286.0" r="1.15"/><circle cx="300.8" cy="269.4" r="1.15"/><circle cx="297.3" cy="267.4" r="1.15"/><circle cx="300.5" cy="265.0" r="1.4"/><circle cx="294.8" cy="272.9" r="1.15"/><circle cx="292.6" cy="266.4" r="1.15"/><circle cx="301.8" cy="271.2" r="1.4"/><circle cx="303.6" cy="269.8" r="1.15"/><circle cx="298.3" cy="272.9" r="1.15"/><circle cx="300.2" cy="266.2" r="1.15"/><circle cx="304.9" cy="278.2" r="1.4"/><circle cx="298.8" cy="270.3" r="1.15"/><circle cx="300.0" cy="275.1" r="1.15"/><circle cx="302.2" cy="273.2" r="1.4"/><circle cx="297.2" cy="278.6" r="1.4"/><circle cx="298.8" cy="267.9" r="1.15"/><circle cx="289.9" cy="264.7" r="1.4"/><circle cx="292.6" cy="273.3" r="1.4"/><circle cx="292.6" cy="263.9" r="1.15"/><circle cx="304.7" cy="279.2" r="1.7"/><circle cx="301.7" cy="277.2" r="1.15"/><circle cx="308.3" cy="271.9" r="1.4"/><circle cx="307.4" cy="276.6" r="1.15"/><circle cx="300.5" cy="275.6" r="1.15"/><circle cx="304.8" cy="276.4" r="1.15"/><circle cx="295.3" cy="267.4" r="1.4"/><circle cx="307.9" cy="281.4" r="1.15"/><circle cx="310.8" cy="268.4" r="1.4"/><circle cx="305.6" cy="275.7" r="1.15"/><circle cx="301.4" cy="278.1" r="1.15"/><circle cx="296.2" cy="279.6" r="1.15"/><circle cx="310.0" cy="278.5" r="1.15"/><circle cx="303.0" cy="277.7" r="1.4"/><circle cx="302.7" cy="280.1" r="1.15"/><circle cx="309.1" cy="279.5" r="1.7"/><circle cx="307.3" cy="274.5" r="1.4"/><circle cx="307.1" cy="266.9" r="1.15"/><circle cx="308.1" cy="275.2" r="1.15"/><circle cx="295.5" cy="279.7" r="1.15"/><circle cx="303.8" cy="273.5" r="1.7"/><circle cx="307.0" cy="276.3" r="1.15"/><circle cx="300.4" cy="267.3" r="1.7"/><circle cx="296.8" cy="286.5" r="1.7"/><circle cx="305.2" cy="273.8" r="1.7"/><circle cx="305.0" cy="277.3" r="1.4"/><circle cx="303.6" cy="272.3" r="1.15"/><circle cx="305.8" cy="276.4" r="1.15"/><circle cx="302.6" cy="265.7" r="1.15"/><circle cx="308.3" cy="278.9" r="1.15"/><circle cx="305.9" cy="284.2" r="1.15"/><circle cx="311.2" cy="278.5" r="1.15"/><circle cx="307.5" cy="279.2" r="1.15"/><circle cx="306.1" cy="277.6" r="1.15"/><circle cx="305.3" cy="283.5" r="1.15"/><circle cx="307.3" cy="277.3" r="1.7"/><circle cx="308.5" cy="270.9" r="1.7"/><circle cx="304.9" cy="273.1" r="1.7"/><circle cx="301.7" cy="276.5" r="1.4"/><circle cx="305.5" cy="273.2" r="1.15"/><circle cx="301.4" cy="283.9" r="1.4"/><circle cx="306.3" cy="277.4" r="1.15"/><circle cx="294.7" cy="268.0" r="1.7"/><circle cx="303.8" cy="273.2" r="1.15"/><circle cx="295.0" cy="269.5" r="1.15"/><circle cx="311.6" cy="285.2" r="1.7"/><circle cx="310.8" cy="284.2" r="1.15"/><circle cx="311.9" cy="277.7" r="1.7"/><circle cx="314.2" cy="280.7" r="1.7"/><circle cx="312.5" cy="279.6" r="1.15"/><circle cx="309.0" cy="279.8" r="1.7"/><circle cx="316.2" cy="289.0" r="1.15"/><circle cx="313.5" cy="280.6" r="1.15"/><circle cx="309.8" cy="282.7" r="1.15"/><circle cx="309.2" cy="276.8" r="1.4"/><circle cx="309.4" cy="285.2" r="1.4"/><circle cx="318.0" cy="279.5" r="1.15"/><circle cx="308.8" cy="280.0" r="1.4"/><circle cx="313.7" cy="279.1" r="1.15"/><circle cx="317.9" cy="278.2" r="1.4"/><circle cx="311.7" cy="277.5" r="1.7"/><circle cx="309.7" cy="279.4" r="1.7"/><circle cx="303.3" cy="283.9" r="1.15"/><circle cx="306.7" cy="276.8" r="1.7"/><circle cx="312.6" cy="281.3" r="1.15"/><circle cx="278.6" cy="226.5" r="1.15"/><circle cx="277.7" cy="233.2" r="1.15"/><circle cx="280.5" cy="233.2" r="1.15"/><circle cx="288.4" cy="239.6" r="1.15"/><circle cx="294.3" cy="247.5" r="1.15"/><circle cx="294.3" cy="256.3" r="1.15"/><circle cx="312.0" cy="270.0" r="1.15"/><circle cx="306.1" cy="283.7" r="1.15"/><circle cx="302.2" cy="283.7" r="1.15"/><circle cx="284.5" cy="273.0" r="1.15"/><circle cx="269.8" cy="256.3" r="1.15"/><circle cx="271.8" cy="259.2" r="1.15"/><circle cx="266.9" cy="246.5" r="1.15"/></g>
<clipPath id="cp2"><rect x="212.8" y="328.6" width="141.8" height="141.79999999999995"/></clipPath>
<g clip-path="url(#cp2)" fill="#1f77b4"><circle cx="234.6" cy="329.1" r="1.15"/><circle cx="249.1" cy="332.0" r="1.15"/><circle cx="252.5" cy="329.8" r="1.15"/><circle cx="254.7" cy="331.4" r="1.15"/><circle cx="257.0" cy="329.1" r="1.15"/><circle cx="258.1" cy="332.5" r="1.15"/><circle cx="261.5" cy="332.9" r="1.15"/><circle cx="265.9" cy="330.2" r="1.15"/><circle cx="267.1" cy="332.9" r="1.15"/><circle cx="277.1" cy="329.1" r="1.15"/><circle cx="278.7" cy="332.0" r="1.15"/><circle cx="253.6" cy="334.7" r="1.15"/><circle cx="257.0" cy="338.1" r="1.15"/><circle cx="254.7" cy="338.8" r="1.15"/><circle cx="278.3" cy="335.2" r="1.15"/><circle cx="270.4" cy="338.1" r="1.15"/><circle cx="276.0" cy="339.2" r="1.15"/><circle cx="251.4" cy="341.0" r="1.15"/><circle cx="253.6" cy="341.4" r="1.15"/><circle cx="255.9" cy="342.6" r="1.15"/><circle cx="230.8" cy="344.8" r="1.15"/><circle cx="261.5" cy="343.7" r="1.15"/><circle cx="267.1" cy="343.2" r="1.15"/><circle cx="269.3" cy="344.1" r="1.15"/><circle cx="272.0" cy="343.2" r="1.15"/><circle cx="274.9" cy="342.6" r="1.15"/><circle cx="257.0" cy="345.9" r="1.15"/><circle cx="251.4" cy="348.2" r="1.15"/><circle cx="253.6" cy="350.0" r="1.15"/><circle cx="255.9" cy="349.3" r="1.15"/><circle cx="264.8" cy="348.2" r="1.15"/><circle cx="263.7" cy="351.5" r="1.15"/><circle cx="268.2" cy="350.4" r="1.15"/><circle cx="246.4" cy="353.8" r="1.15"/><circle cx="249.1" cy="356.0" r="1.15"/><circle cx="253.6" cy="355.3" r="1.15"/><circle cx="259.2" cy="358.3" r="1.15"/><circle cx="261.5" cy="360.5" r="1.15"/><circle cx="271.5" cy="357.6" r="1.15"/><circle cx="280.1" cy="358.3" r="1.15"/><circle cx="251.4" cy="360.5" r="1.15"/><circle cx="246.4" cy="362.7" r="1.15"/><circle cx="260.3" cy="366.1" r="1.15"/><circle cx="263.7" cy="366.5" r="1.15"/><circle cx="251.4" cy="367.9" r="1.15"/><circle cx="255.4" cy="367.9" r="1.15"/><circle cx="269.3" cy="365.6" r="1.15"/><circle cx="268.2" cy="368.8" r="1.15"/><circle cx="272.7" cy="369.5" r="1.15"/><circle cx="261.5" cy="369.5" r="1.15"/><circle cx="264.8" cy="372.4" r="1.15"/><circle cx="265.9" cy="375.1" r="1.15"/><circle cx="230.8" cy="379.1" r="1.15"/><circle cx="255.9" cy="377.3" r="1.15"/><circle cx="257.0" cy="378.4" r="1.15"/><circle cx="272.7" cy="375.7" r="1.15"/><circle cx="250.3" cy="380.7" r="1.15"/><circle cx="268.2" cy="380.7" r="1.15"/><circle cx="267.1" cy="382.9" r="1.15"/><circle cx="274.9" cy="380.0" r="1.15"/><circle cx="273.8" cy="382.9" r="1.15"/><circle cx="279.4" cy="382.9" r="1.15"/><circle cx="258.1" cy="384.0" r="1.15"/><circle cx="260.3" cy="382.9" r="1.15"/><circle cx="239.0" cy="385.1" r="1.15"/><circle cx="241.3" cy="386.7" r="1.15"/><circle cx="242.4" cy="385.8" r="1.15"/><circle cx="254.7" cy="387.4" r="1.15"/><circle cx="263.7" cy="385.8" r="1.15"/><circle cx="264.8" cy="388.1" r="1.15"/><circle cx="271.5" cy="385.1" r="1.15"/><circle cx="261.5" cy="389.6" r="1.15"/><circle cx="265.9" cy="389.6" r="1.15"/><circle cx="257.0" cy="391.9" r="1.15"/><circle cx="259.2" cy="393.0" r="1.15"/><circle cx="236.8" cy="395.2" r="1.15"/><circle cx="240.2" cy="397.0" r="1.15"/><circle cx="243.5" cy="395.2" r="1.15"/><circle cx="244.6" cy="397.9" r="1.15"/><circle cx="252.5" cy="395.2" r="1.15"/><circle cx="253.6" cy="397.5" r="1.15"/><circle cx="268.2" cy="393.0" r="1.15"/><circle cx="270.4" cy="395.2" r="1.15"/><circle cx="273.8" cy="393.0" r="1.15"/><circle cx="277.1" cy="391.9" r="1.15"/><circle cx="279.4" cy="393.4" r="1.15"/><circle cx="277.8" cy="396.3" r="1.15"/><circle cx="232.7" cy="420.8" r="1.15"/><circle cx="237.3" cy="413.0" r="1.15"/><circle cx="258.9" cy="453.2" r="1.15"/><circle cx="307.8" cy="444.5" r="1.9"/><circle cx="279.7" cy="438.2" r="1.15"/><circle cx="306.2" cy="452.4" r="1.15"/><circle cx="288.8" cy="441.3" r="1.15"/><circle cx="299.8" cy="439.8" r="1.15"/><circle cx="305.9" cy="436.9" r="1.15"/><circle cx="302.9" cy="443.5" r="1.15"/><circle cx="297.6" cy="445.3" r="1.15"/><circle cx="312.2" cy="438.3" r="1.15"/><circle cx="306.5" cy="445.6" r="1.15"/><circle cx="287.9" cy="438.3" r="1.15"/><circle cx="313.6" cy="441.9" r="1.15"/><circle cx="303.0" cy="438.7" r="1.9"/><circle cx="301.2" cy="435.0" r="1.15"/><circle cx="289.1" cy="428.8" r="1.9"/><circle cx="299.5" cy="438.9" r="1.5"/><circle cx="302.6" cy="443.7" r="1.5"/><circle cx="289.4" cy="430.1" r="1.15"/><circle cx="307.3" cy="452.6" r="1.15"/><circle cx="314.1" cy="450.8" r="1.15"/><circle cx="304.7" cy="447.3" r="1.15"/><circle cx="297.1" cy="434.9" r="1.15"/><circle cx="303.4" cy="436.5" r="1.5"/><circle cx="312.7" cy="445.5" r="1.5"/><circle cx="307.6" cy="448.5" r="1.15"/><circle cx="324.5" cy="452.7" r="1.15"/><circle cx="310.2" cy="454.7" r="1.5"/><circle cx="315.5" cy="441.9" r="1.15"/><circle cx="290.6" cy="429.1" r="1.5"/><circle cx="306.7" cy="442.4" r="1.15"/><circle cx="292.5" cy="438.9" r="1.15"/><circle cx="307.4" cy="436.0" r="1.5"/><circle cx="314.6" cy="449.6" r="1.5"/><circle cx="320.7" cy="452.5" r="1.15"/><circle cx="290.1" cy="441.8" r="1.15"/><circle cx="301.7" cy="436.9" r="1.15"/><circle cx="291.9" cy="433.0" r="1.15"/><circle cx="300.4" cy="442.4" r="1.15"/><circle cx="295.3" cy="439.5" r="1.5"/><circle cx="300.5" cy="450.7" r="1.15"/><circle cx="297.9" cy="440.9" r="1.15"/><circle cx="298.9" cy="440.7" r="1.15"/><circle cx="299.3" cy="442.4" r="1.15"/><circle cx="317.7" cy="448.2" r="1.5"/><circle cx="298.8" cy="442.2" r="1.15"/><circle cx="290.9" cy="425.0" r="1.15"/><circle cx="302.5" cy="448.6" r="1.9"/><circle cx="279.1" cy="428.8" r="1.5"/><circle cx="315.2" cy="441.5" r="1.9"/><circle cx="311.1" cy="447.1" r="1.5"/><circle cx="318.5" cy="441.6" r="1.15"/><circle cx="302.5" cy="447.9" r="1.15"/><circle cx="306.5" cy="449.2" r="1.15"/><circle cx="293.7" cy="439.1" r="1.15"/><circle cx="306.0" cy="442.7" r="1.9"/><circle cx="287.4" cy="448.5" r="1.15"/><circle cx="301.5" cy="447.1" r="1.15"/><circle cx="294.0" cy="444.0" r="1.5"/><circle cx="289.0" cy="439.1" r="1.5"/><circle cx="331.4" cy="448.7" r="1.15"/><circle cx="292.4" cy="430.2" r="1.15"/><circle cx="314.0" cy="452.0" r="1.15"/><circle cx="299.5" cy="450.1" r="1.15"/><circle cx="300.9" cy="445.5" r="1.5"/><circle cx="306.2" cy="436.5" r="1.9"/><circle cx="287.8" cy="440.5" r="1.15"/><circle cx="304.5" cy="445.5" r="1.15"/><circle cx="292.3" cy="443.0" r="1.15"/><circle cx="304.9" cy="448.1" r="1.15"/><circle cx="300.3" cy="444.2" r="1.15"/><circle cx="300.5" cy="440.4" r="1.15"/><circle cx="308.1" cy="438.6" r="1.15"/><circle cx="310.0" cy="439.5" r="1.15"/><circle cx="322.1" cy="444.1" r="1.15"/><circle cx="305.6" cy="443.7" r="1.15"/><circle cx="302.4" cy="443.2" r="1.15"/><circle cx="292.9" cy="440.8" r="1.15"/><circle cx="284.0" cy="427.0" r="1.5"/><circle cx="309.1" cy="433.1" r="1.15"/><circle cx="292.0" cy="439.2" r="1.15"/><circle cx="319.1" cy="450.3" r="1.15"/><circle cx="278.6" cy="434.6" r="1.15"/><circle cx="310.1" cy="439.9" r="1.15"/><circle cx="286.7" cy="444.5" r="1.15"/><circle cx="301.6" cy="438.2" r="1.15"/><circle cx="320.2" cy="454.8" r="1.5"/><circle cx="288.1" cy="432.8" r="1.15"/><circle cx="304.1" cy="442.0" r="1.15"/><circle cx="310.9" cy="448.0" r="1.5"/><circle cx="290.1" cy="449.4" r="1.5"/><circle cx="304.8" cy="436.8" r="1.15"/><circle cx="301.0" cy="451.7" r="1.15"/><circle cx="280.4" cy="444.8" r="1.15"/><circle cx="302.8" cy="445.4" r="1.15"/><circle cx="308.6" cy="436.5" r="1.9"/><circle cx="299.0" cy="448.4" r="1.5"/><circle cx="300.8" cy="438.6" r="1.5"/><circle cx="288.7" cy="443.6" r="1.15"/><circle cx="311.9" cy="451.3" r="1.5"/><circle cx="290.1" cy="449.8" r="1.15"/><circle cx="296.0" cy="449.3" r="1.15"/><circle cx="309.4" cy="439.0" r="1.15"/><circle cx="305.5" cy="448.3" r="1.15"/><circle cx="323.4" cy="447.2" r="1.15"/><circle cx="304.0" cy="443.9" r="1.15"/><circle cx="293.1" cy="447.8" r="1.15"/><circle cx="300.5" cy="445.7" r="1.15"/><circle cx="295.2" cy="429.9" r="1.5"/><circle cx="303.9" cy="446.9" r="1.5"/><circle cx="304.7" cy="442.4" r="1.15"/><circle cx="304.0" cy="454.1" r="1.15"/><circle cx="306.3" cy="444.8" r="1.5"/><circle cx="307.0" cy="441.1" r="1.15"/><circle cx="309.4" cy="447.9" r="1.15"/><circle cx="297.1" cy="447.6" r="1.15"/><circle cx="311.9" cy="452.1" r="1.5"/><circle cx="299.7" cy="443.8" r="1.15"/><circle cx="289.3" cy="431.3" r="1.15"/><circle cx="295.0" cy="448.0" r="1.15"/><circle cx="303.6" cy="447.3" r="1.5"/><circle cx="302.4" cy="443.9" r="1.15"/><circle cx="291.4" cy="436.9" r="1.5"/><circle cx="309.8" cy="441.3" r="1.15"/><circle cx="303.4" cy="449.7" r="1.9"/><circle cx="302.8" cy="439.7" r="1.5"/><circle cx="297.5" cy="441.2" r="1.15"/><circle cx="319.1" cy="448.6" r="1.15"/><circle cx="300.7" cy="452.8" r="1.15"/><circle cx="296.2" cy="436.3" r="1.5"/><circle cx="322.2" cy="449.0" r="1.15"/><circle cx="306.4" cy="441.4" r="1.5"/><circle cx="292.9" cy="438.3" r="1.5"/><circle cx="306.6" cy="439.0" r="1.15"/><circle cx="297.1" cy="452.8" r="1.15"/><circle cx="299.5" cy="437.3" r="1.15"/><circle cx="305.7" cy="455.0" r="1.5"/><circle cx="309.8" cy="442.2" r="1.5"/><circle cx="297.0" cy="442.6" r="1.15"/><circle cx="305.6" cy="449.7" r="1.15"/><circle cx="302.1" cy="433.6" r="1.5"/><circle cx="306.6" cy="443.5" r="1.15"/><circle cx="300.2" cy="435.2" r="1.15"/><circle cx="301.0" cy="439.3" r="1.9"/><circle cx="300.0" cy="446.0" r="1.9"/><circle cx="311.2" cy="445.6" r="1.9"/><circle cx="301.3" cy="454.6" r="1.15"/><circle cx="310.7" cy="439.9" r="1.15"/><circle cx="307.5" cy="440.7" r="1.15"/><circle cx="292.0" cy="430.4" r="1.15"/><circle cx="288.8" cy="435.8" r="1.15"/><circle cx="313.3" cy="443.6" r="1.15"/><circle cx="293.9" cy="454.4" r="1.15"/><circle cx="285.8" cy="439.1" r="1.15"/><circle cx="309.0" cy="437.2" r="1.5"/><circle cx="299.3" cy="453.2" r="1.5"/><circle cx="292.2" cy="447.0" r="1.15"/><circle cx="301.1" cy="434.2" r="1.15"/><circle cx="290.4" cy="430.8" r="1.5"/><circle cx="295.4" cy="443.8" r="1.15"/><circle cx="290.7" cy="434.2" r="1.15"/><circle cx="285.7" cy="448.4" r="1.15"/><circle cx="288.3" cy="445.6" r="1.15"/><circle cx="277.3" cy="427.4" r="1.15"/><circle cx="296.2" cy="441.5" r="1.5"/><circle cx="311.1" cy="452.8" r="1.15"/><circle cx="289.8" cy="440.4" r="1.5"/><circle cx="288.4" cy="436.3" r="1.5"/><circle cx="267.7" cy="413.8" r="1.5"/><circle cx="277.5" cy="429.5" r="1.5"/><circle cx="280.6" cy="420.4" r="1.15"/><circle cx="280.2" cy="422.7" r="1.15"/><circle cx="270.4" cy="402.9" r="1.15"/><circle cx="285.7" cy="418.7" r="1.15"/><circle cx="291.2" cy="442.2" r="1.15"/><circle cx="277.5" cy="436.2" r="1.15"/><circle cx="305.1" cy="429.5" r="1.15"/><circle cx="265.5" cy="422.5" r="1.15"/><circle cx="255.7" cy="421.7" r="1.15"/><circle cx="272.5" cy="413.9" r="1.15"/><circle cx="307.5" cy="430.7" r="1.15"/><circle cx="281.7" cy="435.6" r="1.15"/><circle cx="288.9" cy="416.5" r="1.15"/><circle cx="300.4" cy="444.0" r="1.15"/><circle cx="287.9" cy="418.7" r="1.15"/><circle cx="270.4" cy="404.8" r="1.15"/><circle cx="276.7" cy="393.5" r="1.15"/><circle cx="307.2" cy="441.0" r="1.5"/><circle cx="278.2" cy="430.6" r="1.15"/><circle cx="278.6" cy="424.6" r="1.15"/><circle cx="294.4" cy="445.2" r="1.15"/><circle cx="288.9" cy="427.8" r="1.15"/><circle cx="275.7" cy="433.9" r="1.15"/><circle cx="290.7" cy="450.4" r="1.15"/><circle cx="287.0" cy="444.5" r="1.15"/><circle cx="254.2" cy="426.9" r="1.15"/><circle cx="280.8" cy="433.6" r="1.15"/><circle cx="259.1" cy="408.0" r="1.15"/><circle cx="285.7" cy="443.0" r="1.15"/><circle cx="285.9" cy="421.4" r="1.15"/><circle cx="296.7" cy="434.5" r="1.15"/><circle cx="267.4" cy="410.4" r="1.15"/><circle cx="281.2" cy="426.6" r="1.15"/><circle cx="267.9" cy="407.9" r="1.15"/><circle cx="280.9" cy="437.6" r="1.15"/><circle cx="284.9" cy="430.4" r="1.15"/><circle cx="277.7" cy="424.5" r="1.15"/><circle cx="253.1" cy="430.0" r="1.15"/><circle cx="294.2" cy="440.3" r="1.15"/><circle cx="282.3" cy="428.8" r="1.15"/><circle cx="268.3" cy="422.3" r="1.5"/><circle cx="278.5" cy="409.3" r="1.15"/><circle cx="276.8" cy="431.4" r="1.15"/><circle cx="272.1" cy="406.9" r="1.15"/><circle cx="271.3" cy="415.6" r="1.15"/><circle cx="296.5" cy="444.1" r="1.15"/><circle cx="281.8" cy="414.0" r="1.15"/><circle cx="260.7" cy="416.1" r="1.15"/><circle cx="302.7" cy="440.5" r="1.5"/><circle cx="276.6" cy="422.0" r="1.15"/><circle cx="289.0" cy="432.6" r="1.5"/><circle cx="260.1" cy="418.5" r="1.15"/><circle cx="289.2" cy="444.7" r="1.15"/><circle cx="259.4" cy="420.6" r="1.15"/><circle cx="272.6" cy="426.4" r="1.15"/><circle cx="264.8" cy="401.9" r="1.15"/><circle cx="284.3" cy="424.4" r="1.15"/><circle cx="290.2" cy="445.9" r="1.15"/><circle cx="278.0" cy="446.6" r="1.15"/><circle cx="287.1" cy="417.9" r="1.15"/><circle cx="283.2" cy="412.2" r="1.15"/><circle cx="283.6" cy="429.7" r="1.15"/><circle cx="287.8" cy="429.9" r="1.15"/><circle cx="249.1" cy="409.0" r="1.15"/><circle cx="293.5" cy="436.2" r="1.15"/><circle cx="278.1" cy="418.4" r="1.15"/><circle cx="287.0" cy="422.3" r="1.15"/><circle cx="299.6" cy="442.9" r="1.15"/><circle cx="285.3" cy="430.8" r="1.5"/><circle cx="283.6" cy="425.5" r="1.15"/><circle cx="304.9" cy="440.6" r="1.15"/><circle cx="283.0" cy="446.9" r="1.15"/><circle cx="259.1" cy="420.8" r="1.15"/><circle cx="286.9" cy="435.8" r="1.5"/><circle cx="279.5" cy="425.8" r="1.15"/><circle cx="256.4" cy="423.7" r="1.15"/><circle cx="285.4" cy="406.1" r="1.15"/><circle cx="283.0" cy="440.8" r="1.15"/><circle cx="277.9" cy="406.9" r="1.15"/><circle cx="274.1" cy="425.9" r="1.15"/><circle cx="278.2" cy="405.2" r="1.15"/><circle cx="274.5" cy="410.9" r="1.15"/><circle cx="296.2" cy="449.4" r="1.15"/><circle cx="282.5" cy="421.2" r="1.5"/><circle cx="260.5" cy="432.4" r="1.15"/><circle cx="241.7" cy="412.2" r="1.15"/><circle cx="268.7" cy="420.7" r="1.15"/><circle cx="285.0" cy="438.8" r="1.15"/><circle cx="250.6" cy="414.4" r="1.15"/><circle cx="281.3" cy="424.4" r="1.15"/><circle cx="271.7" cy="406.0" r="1.15"/><circle cx="282.2" cy="429.2" r="1.15"/><circle cx="275.7" cy="448.6" r="1.15"/><circle cx="254.6" cy="430.2" r="1.15"/><circle cx="299.2" cy="433.1" r="1.15"/><circle cx="293.2" cy="416.1" r="1.15"/><circle cx="274.2" cy="415.9" r="1.15"/><circle cx="267.4" cy="438.9" r="1.15"/><circle cx="306.9" cy="436.2" r="1.15"/><circle cx="292.9" cy="416.5" r="1.5"/><circle cx="285.7" cy="442.2" r="1.15"/><circle cx="271.7" cy="421.1" r="1.15"/><circle cx="299.8" cy="421.9" r="1.15"/><circle cx="266.7" cy="416.9" r="1.15"/><circle cx="285.0" cy="425.3" r="1.5"/><circle cx="279.6" cy="418.4" r="1.15"/><circle cx="278.2" cy="431.0" r="1.15"/><circle cx="280.6" cy="409.0" r="1.15"/><circle cx="266.4" cy="408.6" r="1.15"/><circle cx="275.3" cy="435.4" r="1.5"/><circle cx="269.1" cy="441.7" r="1.5"/><circle cx="283.1" cy="422.8" r="1.15"/><circle cx="286.1" cy="424.2" r="1.15"/><circle cx="252.7" cy="407.8" r="1.15"/><circle cx="266.6" cy="419.7" r="1.15"/><circle cx="288.5" cy="435.5" r="1.15"/><circle cx="246.9" cy="421.0" r="1.15"/><circle cx="276.0" cy="409.5" r="1.15"/><circle cx="272.1" cy="413.8" r="1.15"/><circle cx="273.2" cy="384.9" r="1.15"/><circle cx="266.1" cy="428.7" r="1.15"/><circle cx="280.5" cy="421.9" r="1.15"/><circle cx="251.7" cy="410.2" r="1.15"/><circle cx="267.8" cy="410.7" r="1.15"/><circle cx="283.6" cy="411.1" r="1.15"/><circle cx="269.5" cy="424.3" r="1.15"/><circle cx="274.6" cy="396.4" r="1.15"/><circle cx="262.1" cy="409.6" r="1.15"/><circle cx="269.9" cy="400.0" r="1.15"/><circle cx="277.9" cy="411.4" r="1.15"/><circle cx="273.7" cy="407.5" r="1.15"/><circle cx="281.8" cy="410.8" r="1.15"/><circle cx="276.6" cy="422.8" r="1.15"/><circle cx="268.8" cy="406.7" r="1.15"/><circle cx="267.1" cy="415.1" r="1.15"/><circle cx="270.0" cy="430.1" r="1.15"/><circle cx="265.5" cy="413.1" r="1.15"/><circle cx="264.7" cy="401.8" r="1.15"/><circle cx="269.2" cy="429.2" r="1.15"/><circle cx="254.6" cy="403.1" r="1.15"/><circle cx="273.7" cy="388.8" r="1.15"/><circle cx="259.4" cy="391.5" r="1.15"/><circle cx="273.4" cy="408.8" r="1.15"/><circle cx="279.7" cy="419.6" r="1.15"/><circle cx="261.2" cy="402.4" r="1.15"/><circle cx="264.3" cy="415.5" r="1.15"/><circle cx="265.7" cy="400.3" r="1.15"/><circle cx="280.9" cy="394.9" r="1.15"/><circle cx="268.7" cy="401.2" r="1.15"/><circle cx="261.2" cy="397.7" r="1.15"/><circle cx="266.0" cy="412.6" r="1.15"/><circle cx="267.6" cy="410.8" r="1.15"/><circle cx="265.2" cy="423.8" r="1.15"/><circle cx="277.2" cy="404.3" r="1.15"/><circle cx="271.5" cy="401.4" r="1.15"/><circle cx="275.6" cy="405.4" r="1.15"/><circle cx="285.5" cy="444.7" r="1.15"/><circle cx="266.6" cy="412.2" r="1.15"/><circle cx="280.0" cy="419.8" r="1.15"/><circle cx="278.4" cy="424.8" r="1.15"/><circle cx="268.2" cy="401.6" r="1.15"/><circle cx="277.5" cy="426.5" r="1.15"/><circle cx="261.3" cy="401.0" r="1.15"/><circle cx="261.4" cy="381.6" r="1.15"/><circle cx="278.6" cy="403.3" r="1.15"/><circle cx="272.6" cy="408.8" r="1.15"/><circle cx="253.7" cy="416.9" r="1.15"/><circle cx="270.1" cy="406.5" r="1.15"/><circle cx="279.2" cy="415.6" r="1.15"/><circle cx="261.4" cy="398.6" r="1.15"/><circle cx="279.7" cy="404.3" r="1.15"/><circle cx="247.9" cy="410.8" r="1.15"/><circle cx="259.6" cy="402.6" r="1.15"/><circle cx="280.6" cy="419.2" r="1.15"/><circle cx="265.5" cy="388.7" r="1.15"/><circle cx="281.7" cy="421.7" r="1.15"/><circle cx="274.4" cy="388.6" r="1.15"/><circle cx="263.0" cy="419.4" r="1.15"/><circle cx="281.0" cy="428.6" r="1.15"/><circle cx="256.5" cy="384.7" r="1.15"/><circle cx="271.1" cy="403.1" r="1.15"/><circle cx="261.6" cy="416.0" r="1.15"/><circle cx="276.1" cy="408.1" r="1.15"/><circle cx="265.1" cy="406.4" r="1.15"/><circle cx="258.4" cy="396.5" r="1.15"/><circle cx="262.5" cy="402.0" r="1.15"/><circle cx="248.0" cy="411.8" r="1.15"/><circle cx="263.8" cy="416.4" r="1.15"/><circle cx="256.3" cy="409.3" r="1.15"/><circle cx="262.9" cy="408.8" r="1.15"/><circle cx="261.0" cy="433.9" r="1.15"/><circle cx="259.1" cy="394.3" r="1.15"/><circle cx="256.6" cy="395.5" r="1.15"/><circle cx="284.5" cy="432.3" r="1.15"/><circle cx="272.0" cy="405.0" r="1.15"/><circle cx="273.6" cy="411.0" r="1.15"/><circle cx="319.5" cy="452.0" r="1.15"/><circle cx="316.7" cy="452.5" r="1.15"/><circle cx="310.1" cy="450.6" r="1.15"/><circle cx="317.4" cy="452.1" r="1.5"/><circle cx="318.2" cy="451.8" r="1.15"/><circle cx="310.2" cy="447.6" r="1.15"/><circle cx="325.4" cy="450.7" r="1.15"/><circle cx="305.2" cy="450.0" r="1.15"/><circle cx="306.9" cy="449.3" r="1.15"/><circle cx="307.5" cy="443.4" r="1.15"/><circle cx="306.5" cy="441.1" r="1.5"/><circle cx="316.8" cy="447.9" r="1.15"/><circle cx="300.8" cy="440.3" r="1.5"/><circle cx="328.0" cy="452.8" r="1.5"/><circle cx="323.9" cy="453.9" r="1.15"/><circle cx="313.3" cy="451.6" r="1.15"/><circle cx="326.8" cy="452.2" r="1.15"/><circle cx="323.2" cy="452.3" r="1.5"/><circle cx="329.9" cy="453.8" r="1.15"/><circle cx="315.5" cy="452.4" r="1.15"/><circle cx="310.9" cy="448.6" r="1.5"/><circle cx="318.5" cy="447.7" r="1.15"/><circle cx="327.4" cy="450.6" r="1.5"/><circle cx="313.0" cy="449.1" r="1.15"/><circle cx="314.7" cy="449.9" r="1.15"/><circle cx="324.0" cy="450.5" r="1.15"/><circle cx="318.5" cy="448.1" r="1.15"/><circle cx="304.6" cy="447.8" r="1.15"/><circle cx="308.4" cy="449.4" r="1.15"/><circle cx="315.7" cy="453.8" r="1.15"/><circle cx="258.0" cy="436.7" r="1.15"/><circle cx="271.2" cy="431.1" r="1.15"/><circle cx="279.5" cy="431.4" r="1.15"/><circle cx="262.8" cy="424.4" r="1.15"/><circle cx="284.4" cy="444.5" r="1.15"/><circle cx="275.9" cy="445.5" r="1.15"/><circle cx="256.2" cy="432.6" r="1.15"/><circle cx="275.2" cy="413.2" r="1.15"/><circle cx="272.3" cy="422.9" r="1.15"/><circle cx="275.9" cy="437.4" r="1.15"/><circle cx="278.5" cy="449.0" r="1.15"/><circle cx="285.4" cy="442.3" r="1.15"/><circle cx="254.7" cy="422.5" r="1.15"/><circle cx="281.0" cy="439.0" r="1.15"/><circle cx="290.9" cy="452.8" r="1.15"/><circle cx="281.6" cy="436.7" r="1.15"/><circle cx="265.1" cy="422.9" r="1.15"/><circle cx="274.4" cy="449.5" r="1.15"/><circle cx="268.4" cy="446.4" r="1.15"/><circle cx="276.8" cy="443.2" r="1.15"/><circle cx="272.6" cy="438.9" r="1.15"/><circle cx="238.8" cy="418.5" r="1.15"/><circle cx="258.0" cy="434.1" r="1.15"/><circle cx="259.6" cy="436.5" r="1.15"/><circle cx="259.6" cy="427.8" r="1.15"/><circle cx="266.9" cy="442.6" r="1.15"/><circle cx="262.4" cy="425.0" r="1.15"/><circle cx="265.8" cy="429.0" r="1.15"/><circle cx="257.9" cy="429.9" r="1.15"/><circle cx="279.6" cy="435.2" r="1.15"/><circle cx="286.6" cy="436.9" r="1.15"/><circle cx="266.3" cy="436.7" r="1.15"/><circle cx="280.4" cy="446.8" r="1.15"/><circle cx="268.0" cy="439.1" r="1.15"/><circle cx="246.6" cy="407.5" r="1.15"/><circle cx="265.5" cy="434.7" r="1.15"/><circle cx="247.8" cy="425.5" r="1.15"/><circle cx="248.4" cy="422.1" r="1.15"/><circle cx="252.5" cy="434.8" r="1.15"/><circle cx="259.0" cy="417.2" r="1.15"/><circle cx="257.8" cy="405.5" r="1.15"/><circle cx="249.8" cy="434.6" r="1.15"/><circle cx="273.7" cy="435.2" r="1.15"/><circle cx="255.1" cy="417.5" r="1.15"/><circle cx="236.9" cy="421.8" r="1.15"/><circle cx="272.6" cy="443.9" r="1.15"/><circle cx="251.0" cy="416.7" r="1.15"/><circle cx="271.7" cy="440.4" r="1.15"/><circle cx="240.6" cy="418.1" r="1.15"/><circle cx="270.9" cy="430.5" r="1.15"/><circle cx="280.4" cy="450.4" r="1.15"/><circle cx="256.6" cy="427.9" r="1.15"/><circle cx="266.6" cy="443.8" r="1.15"/><circle cx="270.9" cy="431.4" r="1.15"/><circle cx="248.8" cy="422.0" r="1.15"/><circle cx="268.0" cy="430.1" r="1.15"/><circle cx="246.3" cy="430.5" r="1.15"/><circle cx="256.1" cy="397.2" r="1.15"/><circle cx="258.7" cy="431.8" r="1.15"/><circle cx="251.4" cy="412.1" r="1.15"/><circle cx="264.6" cy="417.3" r="1.15"/><circle cx="271.3" cy="439.5" r="1.15"/><circle cx="255.2" cy="433.0" r="1.15"/><circle cx="248.5" cy="420.5" r="1.15"/><circle cx="268.7" cy="420.8" r="1.15"/><circle cx="249.5" cy="426.9" r="1.15"/><circle cx="268.9" cy="433.0" r="1.15"/><circle cx="259.6" cy="435.5" r="1.15"/><circle cx="269.4" cy="434.0" r="1.15"/><circle cx="240.7" cy="417.2" r="1.15"/><circle cx="240.4" cy="427.8" r="1.15"/><circle cx="263.9" cy="432.9" r="1.15"/><circle cx="258.2" cy="439.1" r="1.15"/><circle cx="254.6" cy="436.5" r="1.15"/><circle cx="270.1" cy="430.7" r="1.15"/><circle cx="288.1" cy="439.1" r="1.15"/><circle cx="250.7" cy="427.9" r="1.15"/><circle cx="253.7" cy="421.4" r="1.15"/><circle cx="287.3" cy="444.9" r="1.15"/><circle cx="251.1" cy="416.8" r="1.15"/><circle cx="263.7" cy="429.9" r="1.15"/><circle cx="264.3" cy="410.8" r="1.15"/><circle cx="261.2" cy="440.5" r="1.15"/><circle cx="236.2" cy="409.5" r="1.15"/><circle cx="286.6" cy="411.2" r="1.9"/><circle cx="286.8" cy="412.6" r="1.9"/><circle cx="271.4" cy="395.2" r="1.5"/><circle cx="288.7" cy="415.4" r="1.5"/><circle cx="288.1" cy="421.4" r="1.9"/><circle cx="292.1" cy="420.2" r="1.5"/><circle cx="281.6" cy="409.5" r="1.5"/><circle cx="283.2" cy="419.1" r="1.5"/><circle cx="287.5" cy="414.2" r="1.5"/><circle cx="294.0" cy="426.4" r="1.5"/><circle cx="293.3" cy="418.6" r="1.5"/><circle cx="287.6" cy="406.4" r="1.5"/><circle cx="272.9" cy="394.0" r="1.9"/><circle cx="289.0" cy="416.2" r="1.9"/></g>
</svg>
</div>
<script>
(function(){
var V="44015444025645045745055946075a46085c460a5d460b5e470d60470e6147106347116447136548146748166848176948186a481a6c481b6d481c6e481d6f481f70482071482173482374482475482576482677482878482979472a7a472c7a472d7b472e7c472f7d46307e46327e46337f463480453581453781453882443983443a83443b84433d84433e85423f854240864241864142874144874045884046883f47883f48893e49893e4a893e4c8a3d4d8a3d4e8a3c4f8a3c508b3b518b3b528b3a538b3a548c39558c39568c38588c38598c375a8c375b8d365c8d365d8d355e8d355f8d34608d34618d33628d33638d32648e32658e31668e31678e31688e30698e306a8e2f6b8e2f6c8e2e6d8e2e6e8e2e6f8e2d708e2d718e2c718e2c728e2c738e2b748e2b758e2a768e2a778e2a788e29798e297a8e297b8e287c8e287d8e277e8e277f8e27808e26818e26828e26828e25838e25848e25858e24868e24878e23888e23898e238a8d228b8d228c8d228d8d218e8d218f8d21908d21918c20928c20928c20938c1f948c1f958b1f968b1f978b1f988b1f998a1f9a8a1e9b8a1e9c891e9d891f9e891f9f881fa0881fa1881fa1871fa28720a38620a48621a58521a68522a78522a88423a98324aa8325ab8225ac8226ad8127ad8128ae8029af7f2ab07f2cb17e2db27d2eb37c2fb47c31b57b32b67a34b67935b77937b87838b9773aba763bbb753dbc743fbc7340bd7242be7144bf7046c06f48c16e4ac16d4cc26c4ec36b50c46a52c56954c56856c66758c7655ac8645cc8635ec96260ca6063cb5f65cb5e67cc5c69cd5b6ccd5a6ece5870cf5773d05675d05477d1537ad1517cd2507fd34e81d34d84d44b86d54989d5488bd6468ed64590d74393d74195d84098d83e9bd93c9dd93ba0da39a2da37a5db36a8db34aadc32addc30b0dd2fb2dd2db5de2bb8de29bade28bddf26c0df25c2df23c5e021c8e020cae11fcde11dd0e11cd2e21bd5e21ad8e219dae319dde318dfe318e2e418e5e419e7e419eae51aece51befe51cf1e51df4e61ef6e620f8e621fbe723fde725";
var L=[];for(var i=0;i<256;i++){L.push([parseInt(V.substr(i*6,2),16),parseInt(V.substr(i*6+2,2),16),parseInt(V.substr(i*6+4,2),16)]);}
var K={"0": [[142, 71, 23, 12, 15, 0.62, 1.7], [141.5, 69.5, 8, 5.5, 25, 0.32], [139, 60, 28, 10, 12, 0.2], [146, 100, 10, 6, 10, 0.12], [136, 40, 10, 7, 15, 0.1], [128, 27, 12, 7, 15, 0.12], [148.5, 15, 8, 4.5, 5, 0.12]], "1": [[116.5, 240, 6.5, 5, 12, 0.45], [118.5, 249, 6, 5, 20, 0.35], [124.2, 254.7, 6, 5, 45, 0.8], [132, 261.5, 7, 6, 52, 0.62], [141, 268, 7, 6, 55, 0.6], [151.5, 275.5, 6, 5, 60, 0.68], [160, 281, 6, 4.5, 65, 0.38], [130, 252, 12, 7, 45, 0.15]], "2": [[146.6, 445, 13, 9, 53, 0.65, 1.5], [146.6, 445, 7, 5, 53, 0.2], [146, 447, 18, 11, 55, 0.22], [121, 431, 12, 9, 40, 0.5], [109, 406, 16, 11, 25, 0.45], [132, 402, 14, 8, 30, 0.18], [132, 426, 14, 9, 45, 0.1], [101, 340, 14, 5.5, 17, 0.28], [86, 388, 14, 8, 10, 0.12], [125, 420, 35, 20, 40, 0.1], [162, 455, 8, 5, 50, 0.22]], "3": [[139.4, 593.7, 8, 4, 38, 0.85], [137, 591, 13, 3.8, 33, 0.25], [126.5, 573, 7, 3.2, 25, 0.13], [147, 604, 6, 3, 45, 0.12]]};var CK=[[[142, 71, 23, 12, 15, 0.62, 1.7], [141.5, 69.5, 8, 5.5, 25, 0.32], [139, 60, 28, 10, 12, 0.2], [146, 100, 10, 6, 10, 0.12], [136, 40, 10, 7, 15, 0.1], [128, 27, 12, 7, 15, 0.12], [148.5, 15, 8, 4.5, 5, 0.12]], [[118, 238, 6, 4.8, 25, 0.5], [123.5, 248, 6, 4.8, 35, 0.7], [129, 256, 6, 4.8, 45, 0.8], [136.5, 263, 6, 4.6, 52, 0.8], [145.5, 270, 6, 4.4, 56, 0.8], [154, 276.5, 6, 4.2, 60, 0.8], [161, 281, 5, 3.8, 63, 0.6]], [[146.6, 445, 13, 9, 53, 0.65, 1.5], [146.6, 445, 7, 5, 53, 0.2], [146, 447, 18, 11, 55, 0.22], [121, 431, 12, 9, 40, 0.5], [109, 406, 16, 11, 25, 0.45], [132, 402, 14, 8, 30, 0.18], [132, 426, 14, 9, 45, 0.1], [101, 340, 14, 5.5, 17, 0.28], [86, 388, 14, 8, 10, 0.12], [125, 420, 35, 20, 40, 0.1], [162, 455, 8, 5, 50, 0.22]]];var T=[0, 164, 328, 492];var TOPS=[0.5, 164.5, 328.6, 492.6];var BG=[247, 247, 244];var ORD=[2, 1, 0];
function dens(c,x,y){var v=0;for(var k=0;k<c.length;k++){var p=c[k];var a=p[4]*Math.PI/180;var dx=x-p[0],dy=y-p[1];
var u=dx*Math.sin(a)+dy*Math.cos(a);var w=dx*Math.cos(a)-dy*Math.sin(a);var qq=u*u/(p[2]*p[2])+w*w/(p[3]*p[3]);if(p.length>6)qq=Math.pow(qq,p[6]);v+=p[5]*Math.exp(-0.5*qq);}return v;}
for(var r=0;r<4;r++){var cv=document.getElementById('k'+r);var ctx=cv.getContext('2d');var W=cv.width,H=cv.height;
var im=ctx.createImageData(W,H);var c=K[r];var vals=new Float32Array(W*H);var mx=0;
for(var j=0;j<H;j++)for(var i=0;i<W;i++){var v=dens(c,57+i+0.5,T[r]+j+0.5);vals[j*W+i]=v;if(v>mx)mx=v;}
for(var q=0;q<W*H;q++){var idx=Math.max(0,Math.min(255,Math.round(vals[q]/mx*255)));var col=L[idx];im.data[q*4]=col[0];im.data[q*4+1]=col[1];im.data[q*4+2]=col[2];im.data[q*4+3]=255;}
ctx.putImageData(im,0,0);}
var cv=document.getElementById('kc');var ctx=cv.getContext('2d');var W=cv.width,H=cv.height;var im=ctx.createImageData(W,H);
var D=[[],[],[]];var M=[0,0,0];var DX=213-57,DY=[492-T[0],492-T[1],492-T[2]];
for(var k=0;k<3;k++){for(var j=0;j<H;j++)for(var i=0;i<W;i++){var v=dens(CK[k],213+i+0.5-155.4,492+j+0.5-492.6+TOPS[k]);D[k].push(v);if(v>M[k])M[k]=v;}}
var CL=[[0, 0, 0, 0.48, 0.2, 0.7, 1.0, 0.3, 0.9], [0, 0, 0, 0.42, 0.2, 1.0, 0.8, 0.3, 0.8], [0, 0, 0, 0.3, 0.0, 0.7, 1.0, 0.25, 0.75]];var SEQ=[[[247, 251, 255], [222, 235, 247], [198, 219, 239], [157, 202, 225], [106, 174, 214], [65, 145, 198], [32, 112, 180], [8, 80, 155], [8, 48, 107]], [[255, 245, 235], [254, 230, 206], [253, 208, 162], [253, 174, 106], [253, 140, 59], [241, 104, 19], [216, 72, 1], [165, 54, 3], [127, 39, 4]], [[247, 252, 245], [229, 245, 224], [199, 233, 192], [160, 217, 155], [115, 196, 118], [64, 170, 93], [34, 138, 68], [0, 108, 44], [0, 68, 27]]];
for(var q=0;q<W*H;q++){var R=BG[0],G=BG[1],B=BG[2];
for(var kk=0;kk<3;kk++){var k=ORD[kk];var n=D[k][q]/M[k];var p=CL[k];var tt=(n-p[4])/(p[5]-p[4]);tt=tt<0?0:(tt>1?1:tt);var a=p[3]*Math.pow(tt,p[6]);
var cpos=p[7]+(p[8]-p[7])*n;cpos=cpos<0?0:(cpos>1?1:cpos);var sp=SEQ[k];var fi=cpos*8;var i0=Math.min(7,Math.floor(fi));var fr=fi-i0;
var cr=sp[i0][0]+(sp[i0+1][0]-sp[i0][0])*fr,cg=sp[i0][1]+(sp[i0+1][1]-sp[i0][1])*fr,cb=sp[i0][2]+(sp[i0+1][2]-sp[i0][2])*fr;
R=R*(1-a)+cr*a;G=G*(1-a)+cg*a;B=B*(1-a)+cb*a;}
im.data[q*4]=R;im.data[q*4+1]=G;im.data[q*4+2]=B;im.data[q*4+3]=255;}
ctx.putImageData(im,0,0);
})();
</script>
</body></html>
